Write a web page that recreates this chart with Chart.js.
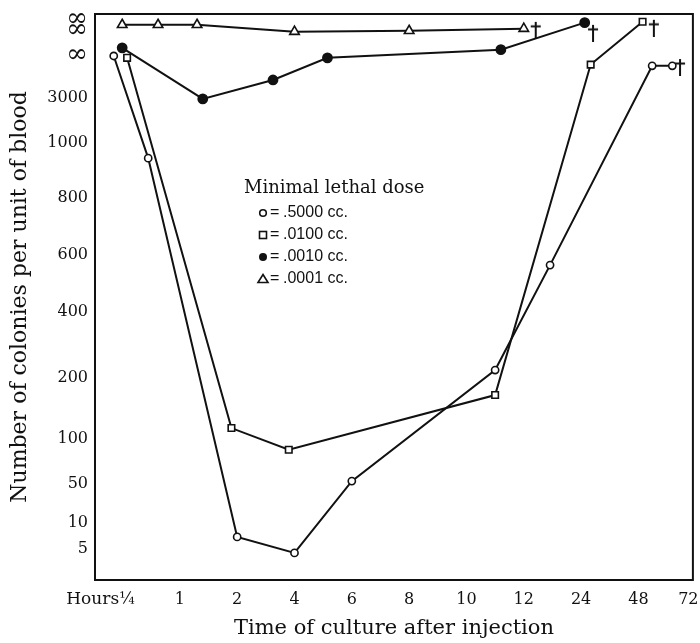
<!DOCTYPE html>
<html>
<head>
<meta charset="utf-8">
<script src="https://cdn.jsdelivr.net/npm/chart.js@4.4.1/dist/chart.umd.min.js"></script>
<style>
  html, body { margin: 0; padding: 0; background: #fff; }
  #wrap { width: 700px; height: 643px; }
</style>
</head>
<body>
<div id="wrap"><canvas id="chart"></canvas></div>
<script>
// codes for the two "infinity" levels of the y axis
var INF = 10000, INF2 = 20000;

// axis labels
var xTickHours  = [0.25, 1, 2, 4, 6, 8, 10, 12, 24, 48, 72];
var xTickLabels = ['\u00BC', '1', '2', '4', '6', '8', '10', '12', '24', '48', '72'];
var yTickValues = [5, 10, 50, 100, 200, 400, 600, 800, 1000, 3000, INF, INF2];
var yTickLabels = ['5', '10', '50', '100', '200', '400', '600', '800', '1000', '3000', '\u221E', ['\u221E', '\u221E']];

// series (minimal lethal dose)
var doseLabels = ['.5000 cc.', '.0100 cc.', '.0010 cc.', '.0001 cc.'];

var hoursA    = [0.06, 0.55, 2, 4, 6, 11, 17.5, 54.6, 64.3];
var coloniesA = [9800, 945, 7.3, 4.35, 53, 224, 565, 8200, 8200];

var hoursB    = [0.25, 1.9, 3.8, 11, 28, 50];
var coloniesB = [9500, 118, 88, 172, 8400, 21000];

var hoursC    = [0.18, 1.4, 3.25, 5.15, 11.2, 25.5];
var coloniesC = [12300, 2950, 5900, 9500, 11700, 20700];

var hoursD    = [0.18, 0.69, 1.3, 4, 8, 12];
var coloniesD = [20000, 20000, 20000, 17700, 18000, 18700];

// deaths (dagger marks)
var deathHours    = [68, 55.4, 29, 14.5];
var deathColonies = [8000, 19000, 17300, 18300];

// axis layout: where each tick sits on the (uneven) axes
var xTickPos = [0.08, 1, 2, 3, 4, 5, 6, 7, 8, 9, 9.87];
var yTickPos = [5.5, 10.1, 17.0, 24.9, 35.7, 47.3, 57.4, 67.5, 77.2, 85.2, 92.8, 98.1];

function interp(v, vals, pos) {
  var n = vals.length, i = 0;
  if (v <= vals[0]) i = 0;
  else if (v >= vals[n - 1]) i = n - 2;
  else { while (v > vals[i + 1]) i++; }
  var t = (v - vals[i]) / (vals[i + 1] - vals[i]);
  return pos[i] + t * (pos[i + 1] - pos[i]);
}
function xPos(h) { return interp(h, xTickHours, xTickPos); }
function yPos(c) { return interp(c, [0].concat(yTickValues), [0].concat(yTickPos)); }

function toPoints(hs, cs) {
  var out = [];
  for (var i = 0; i < hs.length; i++) out.push({ x: xPos(hs[i]), y: yPos(cs[i]) });
  return out;
}

function daggerImg() {
  var c = document.createElement('canvas');
  c.width = 12; c.height = 18;
  var g = c.getContext('2d');
  g.strokeStyle = '#111'; g.lineWidth = 2;
  g.beginPath();
  g.moveTo(6, 1); g.lineTo(6, 18);
  g.moveTo(1, 5.5); g.lineTo(11, 5.5);
  g.stroke();
  return c;
}

var INK = '#111';
var serif = "'DejaVu Serif', serif";

var lineBase = { showLine: true, borderColor: INK, borderWidth: 2, pointBorderColor: INK, pointBorderWidth: 1.6 };

var datasets = [
  Object.assign({ label: doseLabels[0], data: toPoints(hoursA, coloniesA), pointStyle: 'circle', pointRadius: 3.6, pointBackgroundColor: '#fff' }, lineBase),
  Object.assign({ label: doseLabels[1], data: toPoints(hoursB, coloniesB), pointStyle: 'rect', pointRadius: 4.6, pointBackgroundColor: '#fff' }, lineBase),
  Object.assign({ label: doseLabels[2], data: toPoints(hoursC, coloniesC), pointStyle: 'circle', pointRadius: 4.6, pointBackgroundColor: INK }, lineBase),
  Object.assign({ label: doseLabels[3], data: toPoints(hoursD, coloniesD), pointStyle: 'triangle', pointRadius: 5.5, pointBackgroundColor: '#fff' }, lineBase),
  { label: 'death', data: toPoints(deathHours, deathColonies), showLine: false, pointStyle: daggerImg(), pointRadius: 6 }
];

// frame round the plot area
var framePlugin = {
  id: 'frame',
  afterDraw: function(chart) {
    var a = chart.chartArea, ctx = chart.ctx;
    ctx.save();
    ctx.strokeStyle = INK; ctx.lineWidth = 2;
    ctx.strokeRect(a.left, a.top, a.right - a.left, a.bottom - a.top);
    // "Hours" before the first x label
    var xs = chart.scales.x;
    ctx.fillStyle = INK;
    ctx.font = '17px ' + serif;
    ctx.textAlign = 'right'; ctx.textBaseline = 'middle';
    ctx.fillText('Hours', xs.getPixelForValue(xTickPos[0]) - 8, 600);
    ctx.restore();
  }
};

// legend inside the plot
var legendPlugin = {
  id: 'doseLegend',
  afterDraw: function(chart) {
    var ctx = chart.ctx;
    ctx.save();
    ctx.fillStyle = INK; ctx.strokeStyle = INK;
    ctx.font = '18px ' + serif;
    ctx.textAlign = 'left'; ctx.textBaseline = 'middle';
    ctx.fillText('Minimal lethal dose', 244, 188);
    var mx = 263, rows = [213, 235, 257, 279];
    ctx.font = "16px 'Liberation Sans', sans-serif";
    for (var i = 0; i < 4; i++) {
      var y = rows[i];
      ctx.lineWidth = 1.6;
      ctx.beginPath();
      if (i === 0) { ctx.arc(mx, y, 3.3, 0, Math.PI * 2); ctx.fillStyle = '#fff'; ctx.fill(); ctx.stroke(); }
      if (i === 1) { ctx.fillStyle = '#fff'; ctx.fillRect(mx - 3.5, y - 3.5, 7, 7); ctx.strokeRect(mx - 3.5, y - 3.5, 7, 7); }
      if (i === 2) { ctx.arc(mx, y, 4, 0, Math.PI * 2); ctx.fillStyle = INK; ctx.fill(); }
      if (i === 3) { ctx.moveTo(mx, y - 4.5); ctx.lineTo(mx + 5, y + 3.5); ctx.lineTo(mx - 5, y + 3.5); ctx.closePath(); ctx.fillStyle = '#fff'; ctx.fill(); ctx.stroke(); }
      ctx.fillStyle = INK;
      ctx.fillText('=', mx + 7, y);
      ctx.fillText(doseLabels[i], mx + 20, y);
    }
    ctx.restore();
  }
};

new Chart(document.getElementById('chart'), {
  type: 'scatter',
  data: { datasets: datasets },
  plugins: [framePlugin, legendPlugin],
  options: {
    responsive: true,
    maintainAspectRatio: false,
    animation: false,
    layout: { padding: { left: 7, right: 7, top: 14, bottom: 0 } },
    plugins: { legend: { display: false }, tooltip: { enabled: false } },
    scales: {
      x: {
        type: 'linear', min: -0.48, max: 9.95,
        afterBuildTicks: function(s) { s.ticks = xTickPos.map(function(v) { return { value: v }; }); },
        afterFit: function(s) { s.height = 63; s.paddingLeft = 0; s.paddingRight = 0; },
        grid: { display: false, drawTicks: false },
        border: { display: false },
        ticks: {
          autoSkip: false, maxRotation: 0, padding: 10, color: INK,
          font: { family: serif, size: 16 },
          callback: function(v, i) { return xTickLabels[i]; }
        },
        title: { display: true, text: 'Time of culture after injection', color: INK, font: { family: serif, size: 21 }, padding: { top: 0, bottom: 2 } }
      },
      y: {
        type: 'linear', min: 0, max: 100,
        afterBuildTicks: function(s) { s.ticks = yTickPos.map(function(v) { return { value: v }; }); },
        afterFit: function(s) { s.width = 88; s.paddingTop = 0; s.paddingBottom = 0; },
        grid: { display: false, drawTicks: false },
        border: { display: false },
        ticks: {
          autoSkip: false, padding: 7, color: INK,
          font: function(c) {
            var big = c.index >= 10;
            return { family: serif, size: big ? 26 : 16, lineHeight: big ? 0.45 : 1.2 };
          },
          callback: function(v, i) { return yTickLabels[i]; }
        },
        title: { display: true, text: 'Number of colonies per unit of blood', color: INK, font: { family: serif, size: 22 }, padding: { top: 0, bottom: 2 } }
      }
    }
  }
});
</script>
</body>
</html>
